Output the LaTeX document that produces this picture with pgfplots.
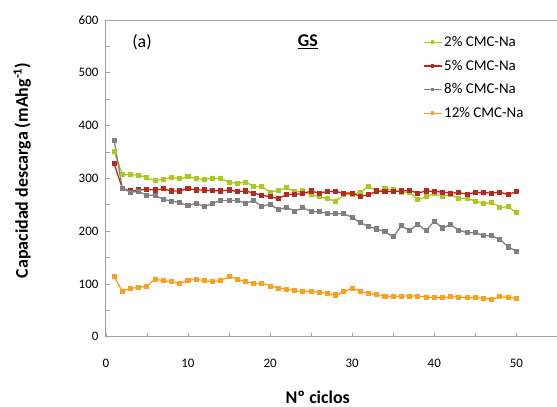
\documentclass[border=0pt]{standalone}
\usepackage{fontspec}
\setmainfont{Carlito}
\usepackage{pgfplots}
\pgfplotsset{compat=1.18}

\definecolor{cgreen}{RGB}{170,200,30}
\definecolor{cred}{RGB}{185,40,30}
\definecolor{cgray}{RGB}{128,128,128}
\definecolor{corange}{RGB}{250,160,30}
\definecolor{axgray}{RGB}{160,160,160}

\begin{document}
\begin{tikzpicture}
\begin{axis}[
    scale only axis,
    width=451bp, height=317bp,
    xmin=0, xmax=54.9, ymin=0, ymax=600,
    axis x line*=bottom, axis y line*=left,
    axis line style={axgray, line width=0.9pt, -},
    xtick={0,10,...,50}, minor xtick={5,15,...,45},
    ytick={0,100,...,600}, minor ytick={50,150,...,550},
    tick style={axgray, line width=0.8pt},
    tick align=inside,
    major tick length=4bp, minor tick length=4bp,
    /pgf/number format/assume math mode=true,
    ticklabel style={font=\fontsize{13}{15}\selectfont},
    xticklabel style={yshift=-19bp},
    yticklabel style={xshift=-4bp},
    xlabel={\textbf{Nº ciclos}},
    ylabel={\textbf{Capacidad descarga (mAhg\textsuperscript{-1})}},
    label style={font=\fontsize{18}{20}\selectfont},
    xlabel style={at={(axis description cs:0.47,-0.19)}, anchor=center},
    ylabel style={at={(axis description cs:-0.186,0.525)}, anchor=center},
    legend style={draw=none, fill=none, at={(rel axis cs:0.703,0.955)}, anchor=north west,
        font=\fontsize{15}{17}\selectfont, row sep=8bp, inner sep=0pt},
    legend cell align=left,
    legend image code/.code={\draw[#1, mark size=1.2pt] (0bp,0bp) -- plot coordinates {(9bp,0bp)} -- (18bp,0bp);},
    every axis plot/.append style={line width=1.3pt, mark=square*, mark size=1.9pt},
    clip=false,
]
\addplot[cgreen, mark options={fill=cgreen}] coordinates {
(1,351)(2,307)(3,307)(4,306)(5,301)(6,296)(7,298)(8,302)(9,299)(10,303)
(11,300)(12,298)(13,300)(14,300)(15,293)(16,290)(17,293)(18,285)(19,284)(20,274)
(21,277)(22,282)(23,275)(24,276)(25,269)(26,265)(27,262)(28,256)(29,269)(30,270)
(31,274)(32,285)(33,275)(34,280)(35,278)(36,274)(37,273)(38,260)(39,265)(40,271)
(41,266)(42,269)(43,262)(44,262)(45,257)(46,252)(47,255)(48,245)(49,246)(50,235)};
\addlegendentry{2\% CMC-Na}
\addplot[cred, mark options={fill=cred}] coordinates {
(1,328)(2,281)(3,276)(4,278)(5,279)(6,278)(7,280)(8,276)(9,276)(10,281)
(11,278)(12,278)(13,277)(14,276)(15,278)(16,275)(17,276)(18,272)(19,268)(20,265)
(21,262)(22,269)(23,270)(24,271)(25,276)(26,272)(27,275)(28,275)(29,272)(30,272)
(31,266)(32,269)(33,276)(34,275)(35,275)(36,276)(37,277)(38,272)(39,276)(40,275)
(41,274)(42,272)(43,273)(44,270)(45,273)(46,273)(47,272)(48,274)(49,269)(50,275)};
\addlegendentry{5\% CMC-Na}
\addplot[cgray, mark options={fill=cgray}] coordinates {
(1,372)(2,281)(3,274)(4,275)(5,268)(6,268)(7,260)(8,257)(9,254)(10,248)
(11,253)(12,246)(13,253)(14,258)(15,258)(16,258)(17,253)(18,258)(19,247)(20,251)
(21,241)(22,245)(23,238)(24,244)(25,237)(26,237)(27,233)(28,233)(29,233)(30,226)
(31,216)(32,209)(33,204)(34,199)(35,189)(36,210)(37,201)(38,213)(39,201)(40,219)
(41,206)(42,212)(43,202)(44,197)(45,197)(46,192)(47,191)(48,185)(49,170)(50,162)};
\addlegendentry{8\% CMC-Na}
\addplot[corange, mark options={fill=corange}] coordinates {
(1,114)(2,86)(3,92)(4,93)(5,96)(6,109)(7,106)(8,104)(9,101)(10,107)
(11,109)(12,106)(13,104)(14,106)(15,114)(16,109)(17,104)(18,101)(19,101)(20,96)
(21,92)(22,90)(23,87)(24,86)(25,86)(26,84)(27,82)(28,79)(29,85)(30,92)
(31,86)(32,82)(33,80)(34,77)(35,76)(36,77)(37,77)(38,77)(39,75)(40,74)
(41,74)(42,76)(43,75)(44,74)(45,74)(46,73)(47,71)(48,76)(49,74)(50,73)};
\addlegendentry{12\% CMC-Na}
\draw[axgray, line width=0.9pt] (rel axis cs:0,1) -- (rel axis cs:1,1);
\node[font=\fontsize{18}{20}\selectfont] at (axis cs:4.4,558) {(a)};
\node[font=\fontsize{18}{20}\selectfont\bfseries] at (axis cs:24.6,558) {\underline{GS}};
\end{axis}
\path[use as bounding box] (-106bp,-70bp) rectangle (451bp,337bp);
\end{tikzpicture}
\end{document}
